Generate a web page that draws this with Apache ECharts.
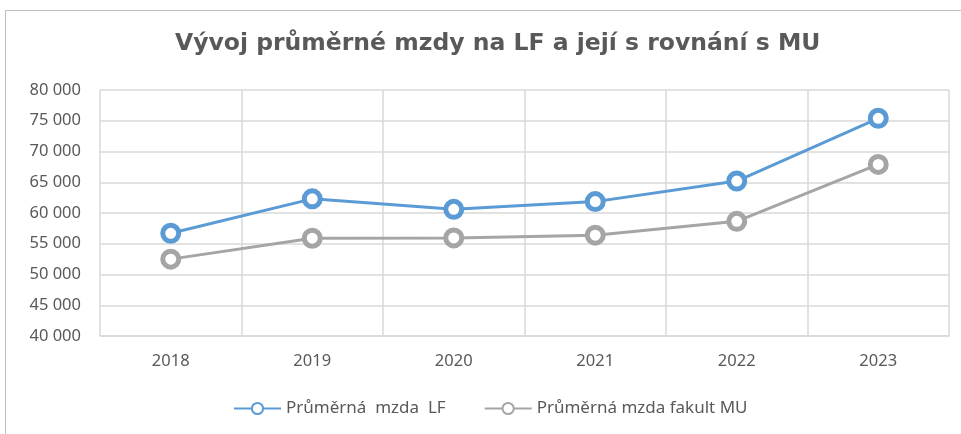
<!DOCTYPE html>
<html>
<head>
<meta charset="utf-8">
<script src="https://cdn.jsdelivr.net/npm/echarts@6/dist/echarts.min.js"></script>
<style>
  html, body { margin: 0; padding: 0; background: #fff; }
  #main { width: 961px; height: 434px; }
</style>
</head>
<body>
<div id="main"></div>
<script>
// roky
var years = ['2018', '2019', '2020', '2021', '2022', '2023'];
// průměrná mzda LF
var mzdaLF = [56700, 62300, 60600, 61850, 65200, 75400];
// průměrná mzda fakult MU
var mzdaMU = [52500, 55900, 55950, 56400, 58650, 67900];

var seriesNames = ['Průměrná  mzda  LF', 'Průměrná mzda fakult MU'];

function fmt(v) {
  return String(v).replace(/\B(?=(\d{3})+(?!\d))/g, ' ');
}

var myChart = echarts.init(document.getElementById('main'));

var option = {
  backgroundColor: '#fff',
  animation: false,
  title: {
    text: 'Vývoj průměrné mzdy na LF a její s rovnání s MU',
    left: 170,
    top: 27,
    textStyle: {
      fontFamily: 'DejaVu Sans',
      fontSize: 23.5,
      fontWeight: 'bold',
      color: '#595959'
    }
  },
  graphic: [{
    type: 'rect',
    shape: { x: 5.5, y: 10.5, width: 980, height: 450 },
    style: { fill: 'none', stroke: '#BFBFBF', lineWidth: 1 },
    silent: true
  }],
  legend: {
    bottom: 12,
    left: 228,
    itemWidth: 47,
    itemHeight: 14,
    itemGap: 38,
    textStyle: {
      fontFamily: 'Noto Sans',
      fontSize: 17,
      color: '#595959'
    },
    data: seriesNames
  },
  grid: {
    left: 100,
    right: 12,
    top: 90,
    bottom: 98
  },
  xAxis: {
    type: 'category',
    data: years,
    boundaryGap: true,
    axisLine: { lineStyle: { color: '#D9D9D9', width: 1.5 } },
    axisTick: { show: false },
    splitLine: { show: true, lineStyle: { color: '#D9D9D9', width: 1.5 } },
    axisLabel: {
      margin: 17,
      fontFamily: 'Noto Sans',
      fontSize: 16.5,
      color: '#595959'
    }
  },
  yAxis: {
    type: 'value',
    min: 40000,
    max: 80000,
    interval: 5000,
    axisLine: { show: false },
    axisTick: { show: false },
    splitLine: { lineStyle: { color: '#D9D9D9', width: 1.5 } },
    axisLabel: {
      margin: 19,
      fontFamily: 'Noto Sans',
      fontSize: 16.5,
      color: '#595959',
      formatter: fmt
    }
  },
  series: [
    {
      name: seriesNames[0],
      type: 'line',
      data: mzdaLF,
      symbol: 'circle',
      symbolSize: 16,
      lineStyle: { color: '#5B9BD5', width: 3 },
      itemStyle: { color: '#fff', borderColor: '#5B9BD5', borderWidth: 5 },
      z: 3
    },
    {
      name: seriesNames[1],
      type: 'line',
      data: mzdaMU,
      symbol: 'circle',
      symbolSize: 16,
      lineStyle: { color: '#A5A5A5', width: 3 },
      itemStyle: { color: '#fff', borderColor: '#A5A5A5', borderWidth: 5 },
      z: 2
    }
  ]
};

myChart.setOption(option);
</script>
</body>
</html>
